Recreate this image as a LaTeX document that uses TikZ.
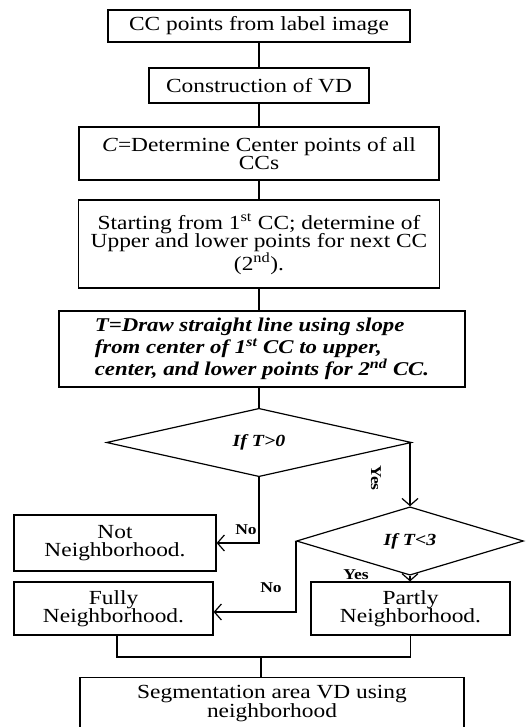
\documentclass[tikz,border=0pt]{standalone}
\usepackage{fontspec}
\setmainfont{Liberation Serif}[FakeStretch=1.17]
\usepackage{tikz}
\usetikzlibrary{arrows.meta, positioning, shapes.geometric}

\tikzset{
  stepbox/.style={draw, line width=1.2pt, inner sep=2pt, align=center,
                  font=\fontsize{20}{18.5}\selectfont},
  decision/.style={diamond, draw, line width=1.2pt, inner sep=0pt,
                   font=\fontsize{17}{17}\selectfont\bfseries\itshape},
  link/.style={line width=1.2pt},
  arrow/.style={link, -{Straight Barb[length=7pt,width=16pt]}},
  branch/.style={font=\fontsize{15}{15}\selectfont\bfseries},
}

\begin{document}
\begin{tikzpicture}[x=1pt, y=-1pt]
  \useasboundingbox (0,0) rectangle (531,727);

  % Main column
  \node[stepbox, minimum width=302pt, minimum height=32pt] (ccpts) at (259,26)
    {CC points from label image};
  \node[stepbox, minimum width=220pt, minimum height=35pt] (vd) at (259,85.5)
    {Construction of VD};
  \node[stepbox, minimum width=360pt, minimum height=53pt] (centers) at (259,153.5)
    {\textit{C}=Determine Center points of all\\CCs};
  \node[stepbox, minimum width=361pt, minimum height=88pt] (start) at (259,244)
    {Starting from 1\textsuperscript{st} CC; determine of\\
     Upper and lower points for next CC\\(2\textsuperscript{nd}).};
  \node[stepbox, align=left, font=\fontsize{19.5}{22}\selectfont\bfseries\itshape,
        minimum width=406pt, minimum height=76pt] (slope) at (262,349)
    {T=Draw straight line using slope\\
     from center of 1\textsuperscript{st} CC to upper,\\
     center, and lower points for 2\textsuperscript{nd} CC.};

  % Decisions
  \node[decision, minimum width=305pt, minimum height=55pt] (tpos) at (259,442.5)
    {If T>0};
  \node[decision, minimum width=227pt, minimum height=56pt] (tless) at (410,541)
    {If T<3};

  % Outcomes
  \node[stepbox, minimum width=202pt, minimum height=56pt] (notnb) at (115,543)
    {Not\\Neighborhood.};
  \node[stepbox, minimum width=199pt, minimum height=53pt] (fully) at (113.5,608.5)
    {Fully\\Neighborhood.};
  \node[stepbox, minimum width=199pt, minimum height=53pt] (partly) at (410.5,608.5)
    {Partly\\Neighborhood.};
  \node[stepbox, anchor=north, minimum width=384pt, minimum height=52pt] (segment) at (272,677)
    {Segmentation area VD using\\neighborhood};

  % Links
  \draw[link] (ccpts) -- (vd);
  \draw[link] (vd) -- (centers);
  \draw[link] (centers) -- (start);
  \draw[link] (start.south) -- (start.south |- slope.north);
  \draw[link] (slope.south -| tpos.north) -- (tpos.north);

  \draw[arrow] (tpos.east) -| (tless.north);
  \node[branch, rotate=-90] (yes1) at (376,478) {Yes};
  \draw[arrow] (tpos.south) |- (notnb.east);
  \node[branch] (no1) at (246,530) {No};
  \draw[arrow] (tless.west) |- ([yshift=-3.5pt]fully.east);
  \node[branch] (no2) at (271,588) {No};
  \draw[arrow] (tless.south) -- (tless.south |- partly.north);
  \node[branch] (yes2) at (356,575) {Yes};

  \coordinate (join) at (261,657);
  \draw[link] ([xshift=3.5pt]fully.south) |- (join) -| (partly.south);
  \draw[link] (join) -- (join |- segment.north);
\end{tikzpicture}
\end{document}
